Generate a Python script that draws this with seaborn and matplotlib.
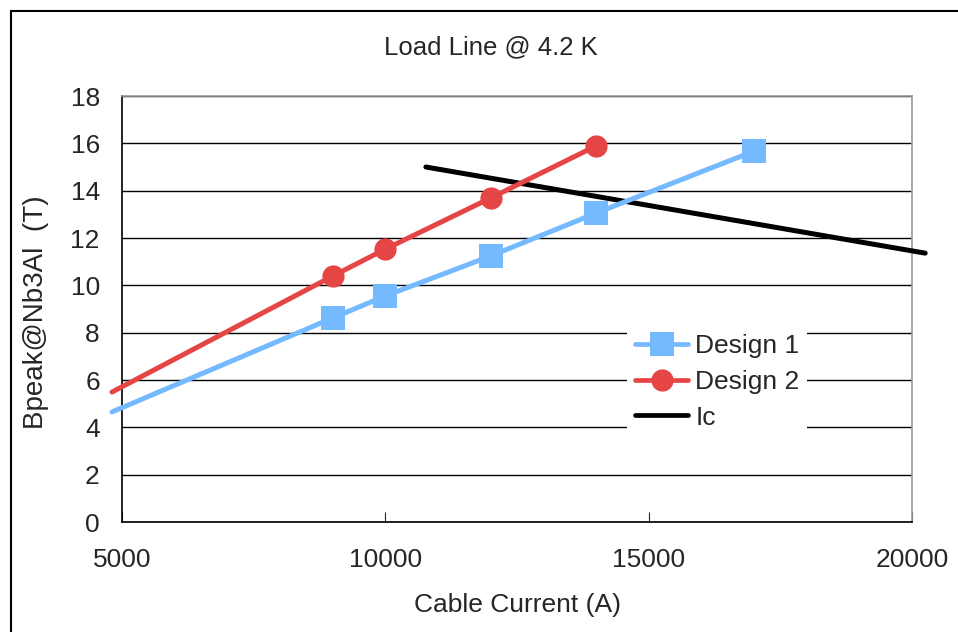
import numpy as np
import pandas as pd
import matplotlib
matplotlib.use("Agg")
import matplotlib.pyplot as plt
import seaborn as sns
from matplotlib.lines import Line2D
from matplotlib.patches import Rectangle

sns.set_style("white")
plt.rcParams['font.family'] = ['Liberation Sans', 'DejaVu Sans']

# data (first point of each design is the line start, no marker)
design1_x = [4810, 9000, 10000, 12000, 14000, 17000]
design1_y = [4.65, 8.62, 9.55, 11.24, 13.05, 15.67]
design2_x = [4810, 9000, 10000, 12000, 14000]
design2_y = [5.49, 10.39, 11.53, 13.69, 15.89]
ic_x = [10770, 20250]
ic_y = [15.0, 11.36]

blue = '#75B9FF'
red = '#E54545'

df1 = pd.DataFrame({'x': design1_x, 'y': design1_y})
df2 = pd.DataFrame({'x': design2_x, 'y': design2_y})
dfi = pd.DataFrame({'x': ic_x, 'y': ic_y})

fig = plt.figure(figsize=(9.58, 6.32), dpi=100)
ax = fig.add_axes([122/958, 1-522/632, 790/958, 426/632])

ax.set_xlim(5000, 20000)
ax.set_ylim(0, 18)
ax.set_yticks(np.arange(0, 19, 2))
ax.set_xticks([5000, 10000, 15000, 20000])
ax.yaxis.grid(True, color='black', linewidth=1.0)
ax.set_axisbelow(True)

sns.lineplot(data=dfi, x='x', y='y', ax=ax, color='black', linewidth=3.6,
             clip_on=False, zorder=3)
sns.lineplot(data=df1, x='x', y='y', ax=ax, color=blue, linewidth=3.6,
             marker='s', markersize=17, markeredgewidth=0, markevery=list(range(1, len(design1_x))),
             clip_on=False, zorder=4)
sns.lineplot(data=df2, x='x', y='y', ax=ax, color=red, linewidth=3.6,
             marker='o', markersize=16, markeredgewidth=0, markevery=list(range(1, len(design2_x))),
             clip_on=False, zorder=5)

for s in ['left', 'bottom']:
    ax.spines[s].set_color('black')
    ax.spines[s].set_linewidth(1.2)
for s in ['top', 'right']:
    ax.spines[s].set_color('#999999')
    ax.spines[s].set_linewidth(1.2)

ax.tick_params(axis='x', direction='in', length=7, width=0.8, bottom=True, pad=19, labelsize=19)
ax.tick_params(axis='y', length=0, pad=16, labelsize=19)
ax.set_xlabel('')
ax.set_ylabel('')

fig.text(491/958, 1-47/632, 'Load Line @ 4.2 K', ha='center', va='center', fontsize=18.5)
fig.text(517/958, 1-605/632, 'Cable Current (A)', ha='center', va='center', fontsize=19)
fig.text(36/958, 1-312/632, 'Bpeak@Nb3Al  (T)', ha='center', va='center', rotation=90,
         fontsize=20)

handles = [Line2D([], [], color=blue, lw=3.4, marker='s', markersize=17, markeredgewidth=0),
           Line2D([], [], color=red, lw=3.4, marker='o', markersize=16, markeredgewidth=0),
           Line2D([], [], color='black', lw=3.4)]
leg = ax.legend(handles, ['Design 1', 'Design 2', 'Ic'], loc='upper left',
                bbox_to_anchor=(0.623, 0.491), frameon=True, fancybox=False,
                edgecolor='none', facecolor='white', framealpha=1, fontsize=19,
                handlelength=2.0, handletextpad=0.27, labelspacing=0.45, borderpad=0.3)
leg.set_zorder(6)

fig.patches.append(Rectangle((11/958, -0.2), 1.2, 1 - 11/632 + 0.2, transform=fig.transFigure,
                             fill=False, edgecolor='black', linewidth=1.5))

fig.savefig('out.png', dpi=100)
